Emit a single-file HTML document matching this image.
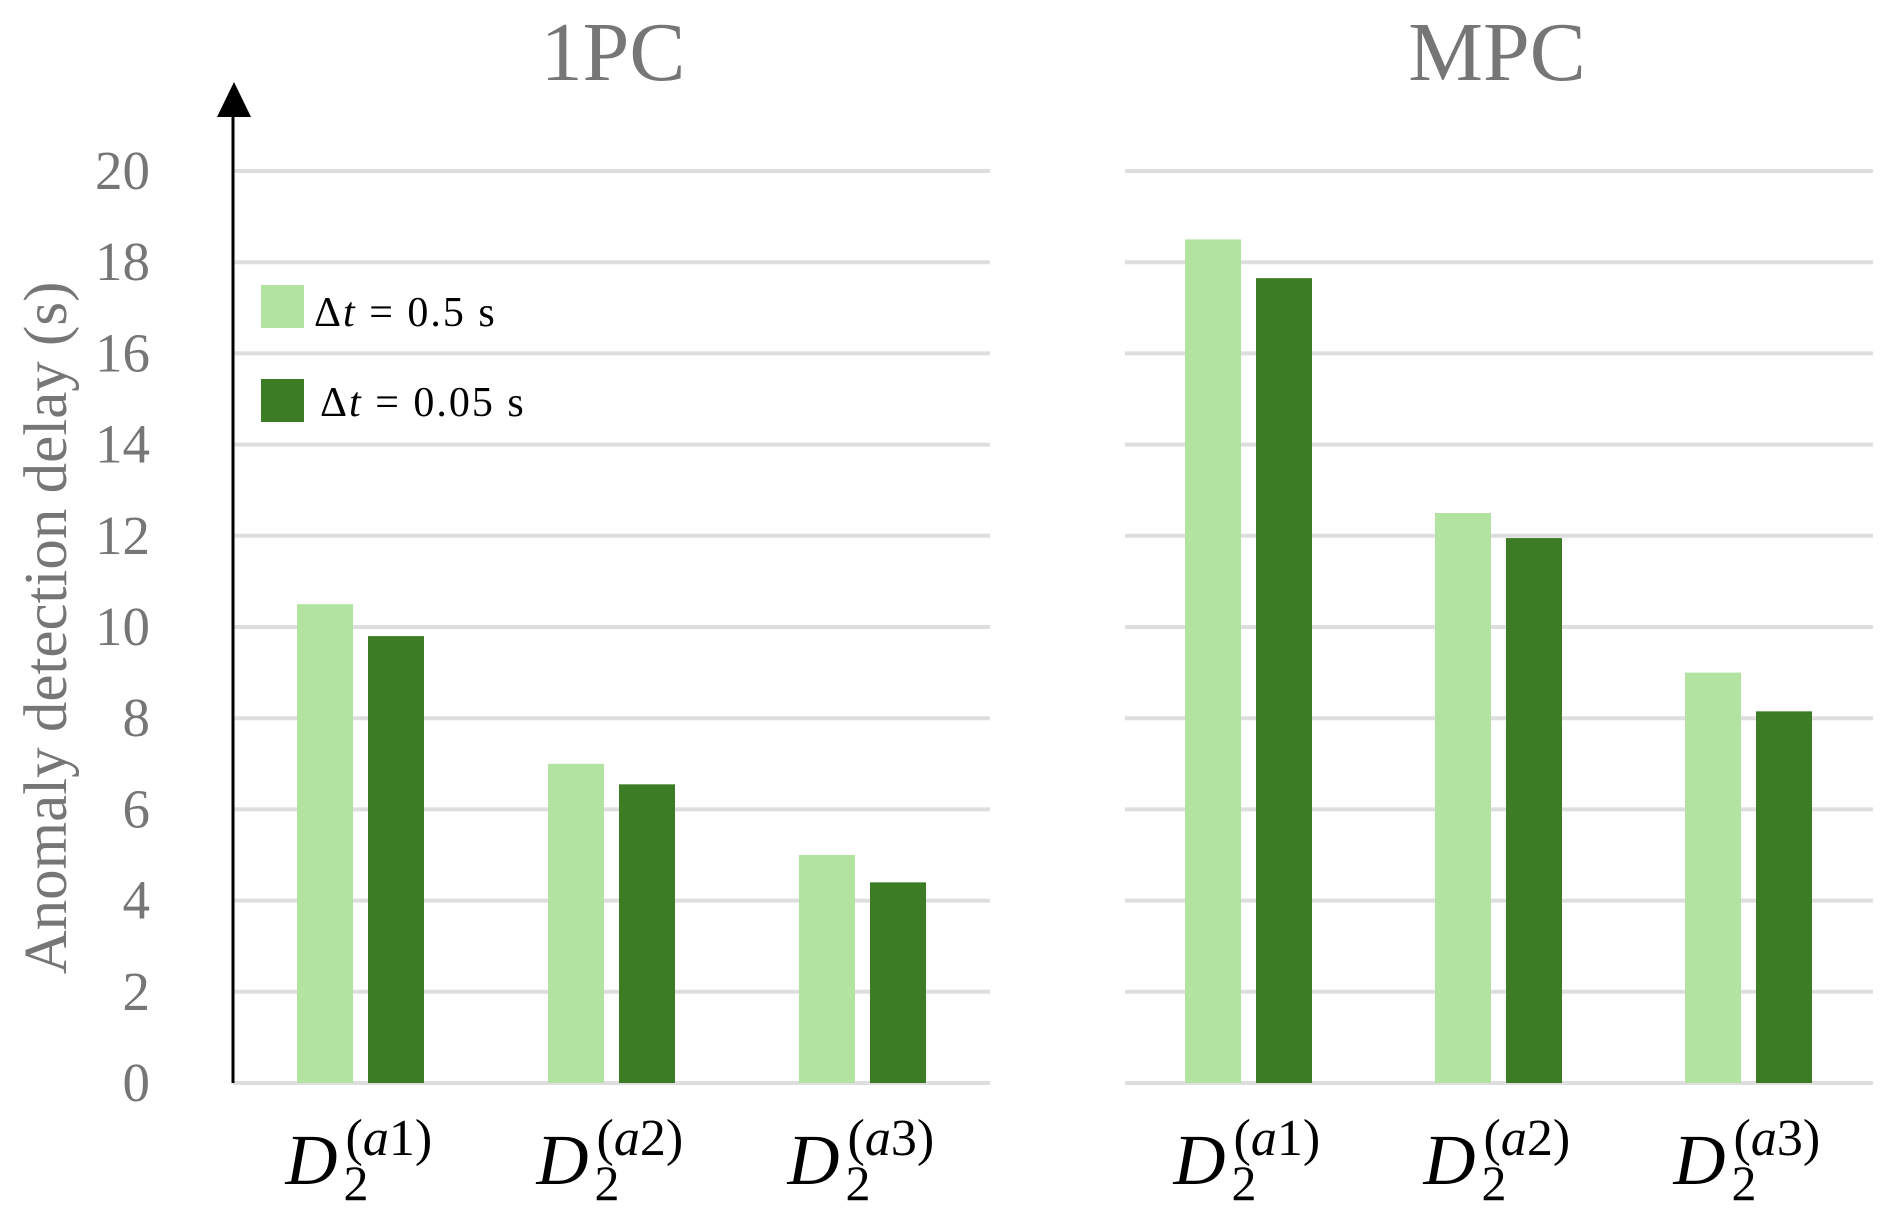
<!DOCTYPE html>
<html><head><meta charset="utf-8"><style>
html,body{margin:0;padding:0;background:#fff;}
svg{display:block;}
</style></head><body>
<svg id="chart" width="1892" height="1220" viewBox="0 0 1892 1220" xmlns="http://www.w3.org/2000/svg">
<g id="grid"></g>
<g id="bars"></g>
<g id="labels"></g>
<line x1="233" y1="1083" x2="233" y2="110" stroke="#000" stroke-width="3"/>
<polygon points="217,117 251,117 234,82" fill="#000"/>
<text x="613" y="80" text-anchor="middle" font-family="Liberation Serif, serif" font-size="84" fill="#767676">1PC</text>
<text x="1497" y="80" text-anchor="middle" font-family="Liberation Serif, serif" font-size="84" fill="#767676">MPC</text>
<text transform="translate(66,628) rotate(-90)" text-anchor="middle" font-family="Liberation Serif, serif" font-size="61" fill="#767676">Anomaly detection delay (s)</text>
<rect x="261" y="285" width="43" height="43" fill="#b3e3a0"/>
<text x="314" y="326" font-family="Liberation Serif, serif" font-size="42" letter-spacing="2" fill="#000">Δ<tspan font-style="italic">t</tspan> = 0.5 s</text>
<rect x="261" y="379" width="43" height="43" fill="#3c7c24"/>
<text x="320" y="416" font-family="Liberation Serif, serif" font-size="42" letter-spacing="2" fill="#000">Δ<tspan font-style="italic">t</tspan> = 0.05 s</text>
</svg>
<script>
const yTicks = [0,2,4,6,8,10,12,14,16,18,20];
const categories = ["a1","a2","a3"];
const panels = ["1PC","MPC"];
const series05_1PC = [10.5, 7.0, 5.0];
const series005_1PC = [9.8, 6.55, 4.4];
const series05_MPC = [18.5, 12.5, 9.0];
const series005_MPC = [17.65, 11.95, 8.15];

const NS = "http://www.w3.org/2000/svg";
const y0 = 1083, yTop = 171;
function yScale(v){ return y0 - (v/20)*(y0-yTop); }
const panelGeom = [{gx1:233, gx2:990, first:297, step:251},{gx1:1125, gx2:1873, first:1185, step:250}];
const barW = 56, gap = 15;
const grid = document.getElementById('grid');
const bars = document.getElementById('bars');
const labels = document.getElementById('labels');
function mk(tag, attrs, parent){ const e=document.createElementNS(NS,tag); for(const k in attrs) e.setAttribute(k,attrs[k]); parent.appendChild(e); return e; }

yTicks.forEach(t=>{
  const y = yScale(t);
  panelGeom.forEach((p,pi)=>{
    const l = mk('line',{x1:p.gx1,x2:p.gx2,y1:y,y2:y,stroke:'#dedede','stroke-width':4},grid);
    
    
  });
  const tx = mk('text',{x:150,y:y+18,'text-anchor':'end','font-family':'Liberation Serif, serif','font-size':55,fill:'#767676'},labels);
  tx.textContent = t;
  
  
});

const allSeries = [[series05_1PC, series005_1PC],[series05_MPC, series005_MPC]];
const colors = ['#b3e3a0','#3c7c24'];
allSeries.forEach((ser,pi)=>{
  const p = panelGeom[pi];
  categories.forEach((c,ci)=>{
    const gx = p.first + ci*p.step;
    ser.forEach((vals,si)=>{
      const x = gx + si*(barW+gap);
      const y = yScale(vals[ci]);
      const r = mk('rect',{x:x,y:y,width:barW,height:y0-y,fill:colors[si]},bars);
      
      
    });
    const cx = gx + barW + gap/2 + 10;
    const t = mk('text',{x:cx-85,y:1184,'font-family':'Liberation Serif, serif','font-size':72,fill:'#000'},labels);
    
    
    const d = mk('tspan',{'font-style':'italic'},t); d.textContent='D';
    const s = mk('tspan',{x:cx-27,y:1200,'font-size':50},t); s.textContent='2';
    const sp = mk('tspan',{x:cx-25,y:1155,'font-size':52},t); sp.textContent='(';
    const sa = mk('tspan',{'font-style':'italic','font-size':52},t); sa.textContent='a';
    const sn = mk('tspan',{'font-size':52},t); sn.textContent=c.slice(1)+')';
  });
});
</script>
</body></html>
